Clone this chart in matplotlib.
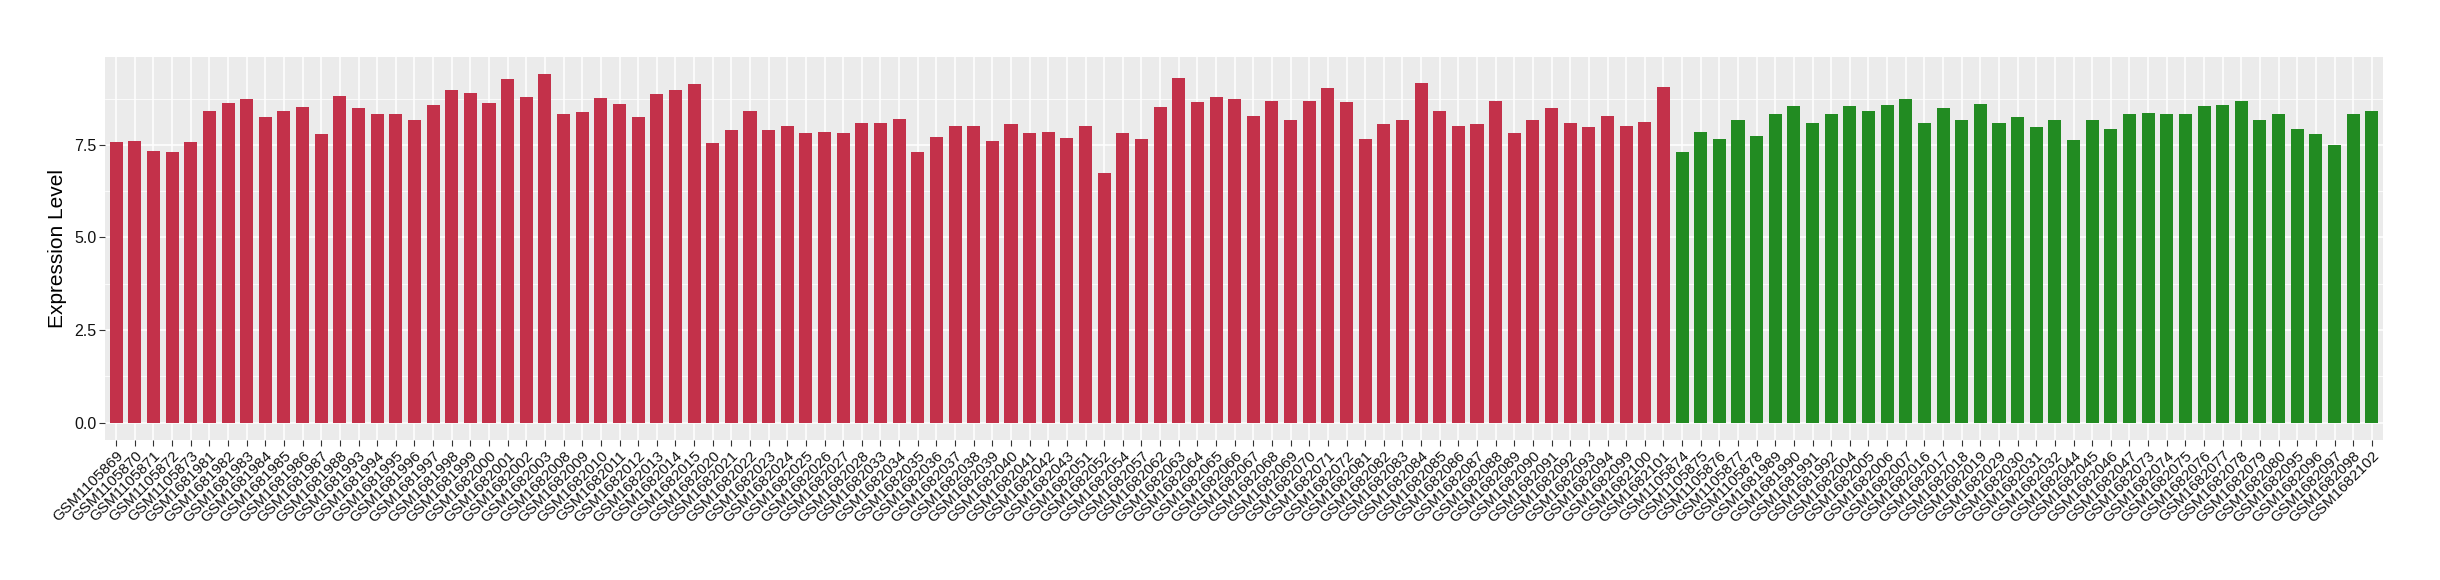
import numpy as np
import matplotlib.pyplot as plt

plt.rcParams['font.family'] = ['Liberation Sans', 'DejaVu Sans']

# amostras do grupo vermelho
red_samples = [
    'GSM1105869', 'GSM1105870', 'GSM1105871', 'GSM1105872', 'GSM1105873',
    'GSM1681981', 'GSM1681982', 'GSM1681983', 'GSM1681984', 'GSM1681985',
    'GSM1681986', 'GSM1681987', 'GSM1681988', 'GSM1681993', 'GSM1681994',
    'GSM1681995', 'GSM1681996', 'GSM1681997', 'GSM1681998', 'GSM1681999',
    'GSM1682000', 'GSM1682001', 'GSM1682002', 'GSM1682003', 'GSM1682008',
    'GSM1682009', 'GSM1682010', 'GSM1682011', 'GSM1682012', 'GSM1682013',
    'GSM1682014', 'GSM1682015', 'GSM1682020', 'GSM1682021', 'GSM1682022',
    'GSM1682023', 'GSM1682024', 'GSM1682025', 'GSM1682026', 'GSM1682027',
    'GSM1682028', 'GSM1682033', 'GSM1682034', 'GSM1682035', 'GSM1682036',
    'GSM1682037', 'GSM1682038', 'GSM1682039', 'GSM1682040', 'GSM1682041',
    'GSM1682042', 'GSM1682043', 'GSM1682051', 'GSM1682052', 'GSM1682054',
    'GSM1682057', 'GSM1682062', 'GSM1682063', 'GSM1682064', 'GSM1682065',
    'GSM1682066', 'GSM1682067', 'GSM1682068', 'GSM1682069', 'GSM1682070',
    'GSM1682071', 'GSM1682072', 'GSM1682081', 'GSM1682082', 'GSM1682083',
    'GSM1682084', 'GSM1682085', 'GSM1682086', 'GSM1682087', 'GSM1682088',
    'GSM1682089', 'GSM1682090', 'GSM1682091', 'GSM1682092', 'GSM1682093',
    'GSM1682094', 'GSM1682099', 'GSM1682100', 'GSM1682101',
]
red_values = [
    7.57, 7.60, 7.33, 7.30, 7.57, 8.42, 8.63, 8.74, 8.26, 8.42, 8.53, 7.78,
    8.82, 8.50, 8.32, 8.32, 8.16, 8.58, 8.98, 8.90, 8.63,
    9.27, 8.79, 9.41, 8.32, 8.40, 8.77, 8.61, 8.24, 8.87, 8.98, 9.14, 7.54,
    7.89, 8.42, 7.89, 8.02, 7.81, 7.86, 7.81, 8.10, 8.10,
    8.21, 7.30, 7.70, 8.02, 8.00, 7.60, 8.05, 7.81, 7.84, 7.68, 8.02, 6.75,
    7.81, 7.65, 8.53, 9.30, 8.66, 8.79, 8.74, 8.29, 8.69,
    8.16, 8.69, 9.03, 8.66, 7.65, 8.05, 8.16, 9.17, 8.42, 8.00, 8.05, 8.69,
    7.81, 8.16, 8.50, 8.08, 7.97, 8.29, 8.02, 8.13, 9.06,
]

# amostras do grupo verde
green_samples = [
    'GSM1105874', 'GSM1105875', 'GSM1105876', 'GSM1105877', 'GSM1105878',
    'GSM1681989', 'GSM1681990', 'GSM1681991', 'GSM1681992', 'GSM1682004',
    'GSM1682005', 'GSM1682006', 'GSM1682007', 'GSM1682016', 'GSM1682017',
    'GSM1682018', 'GSM1682019', 'GSM1682029', 'GSM1682030', 'GSM1682031',
    'GSM1682032', 'GSM1682044', 'GSM1682045', 'GSM1682046', 'GSM1682047',
    'GSM1682073', 'GSM1682074', 'GSM1682075', 'GSM1682076', 'GSM1682077',
    'GSM1682078', 'GSM1682079', 'GSM1682080', 'GSM1682095', 'GSM1682096',
    'GSM1682097', 'GSM1682098', 'GSM1682102',
]
green_values = [
    7.30, 7.86, 7.65, 8.16, 7.73, 8.34, 8.55, 8.10, 8.32, 8.55, 8.42, 8.58,
    8.74, 8.10, 8.50, 8.16, 8.61, 8.08, 8.24, 7.97,
    8.18, 7.62, 8.18, 7.94, 8.32, 8.37, 8.32, 8.34, 8.55, 8.58, 8.69, 8.18,
    8.34, 7.94, 7.78, 7.49, 8.32, 8.42,
]

samples = red_samples + green_samples
values = red_values + green_values
colors = ['#C3314A'] * len(red_samples) + ['#228B22'] * len(green_samples)
x = np.arange(len(samples))

fig = plt.figure(figsize=(24.4, 5.8), dpi=100)
ax = fig.add_axes([105 / 2440, 1 - 440 / 580, (2383 - 105) / 2440, (440 - 56.7) / 580])
ax.set_facecolor('#EBEBEB')

ax.bar(x, values, width=0.7, color=colors, zorder=3)

ymax = max(values)
ax.set_xlim(-0.6, len(samples) - 0.4)
ax.set_ylim(-0.05 * ymax, 1.05 * ymax)

ax.set_yticks([0, 2.5, 5.0, 7.5])
ax.set_yticklabels(['0.0', '2.5', '5.0', '7.5'])
ax.set_yticks([1.25, 3.75, 6.25, 8.75], minor=True)
ax.set_xticks(x)
ax.set_xticklabels(samples, rotation=45, ha='right', va='top', rotation_mode='anchor')

ax.grid(which='major', color='white', linewidth=1.1, zorder=0)
ax.grid(which='minor', axis='y', color='white', linewidth=0.55, zorder=0)
ax.set_axisbelow(True)
for s in ax.spines.values():
    s.set_visible(False)

ax.tick_params(axis='both', which='major', length=4, width=0.8, color='#333333',
               labelsize=11, labelcolor='#111111', pad=2)
ax.tick_params(axis='y', labelsize=11.5)
ax.tick_params(axis='y', which='minor', length=0)
ax.set_ylabel('Expression Level', fontsize=15, labelpad=5)

fig.savefig('out.png', dpi=100)
